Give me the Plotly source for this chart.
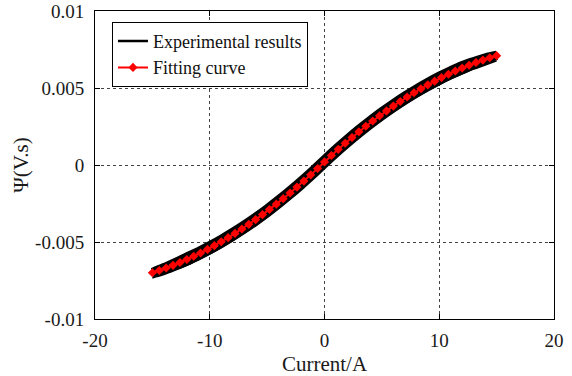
import plotly.graph_objects as go

# ---------------- data ----------------
fit_current = [-15.0, -14.4, -13.8, -13.2, -12.6, -12.0, -11.4, -10.8, -10.2, -9.6,
               -9.0, -8.4, -7.8, -7.2, -6.6, -6.0, -5.4, -4.8, -4.2, -3.6,
               -3.0, -2.4, -1.8, -1.2, -0.6, 0.0, 0.6, 1.2, 1.8, 2.4,
               3.0, 3.6, 4.2, 4.8, 5.4, 6.0, 6.6, 7.2, 7.8, 8.4,
               9.0, 9.6, 10.2, 10.8, 11.4, 12.0, 12.6, 13.2, 13.8, 14.4, 15.0]
fit_psi = [-0.007000, -0.006850, -0.006689, -0.006516, -0.006332, -0.006136, -0.005929,
           -0.005710, -0.005479, -0.005237, -0.004984, -0.004719, -0.004443, -0.004155,
           -0.003855, -0.003544, -0.003221, -0.002887, -0.002542, -0.002185, -0.001816,
           -0.001436, -0.001044, -0.000641, -0.000226, 0.000200, 0.000614, 0.001017,
           0.001408, 0.001788, 0.002156, 0.002513, 0.002858, 0.003191, 0.003513,
           0.003824, 0.004123, 0.004411, 0.004687, 0.004951, 0.005204, 0.005445,
           0.005675, 0.005894, 0.006101, 0.006296, 0.006480, 0.006652, 0.006813,
           0.006962, 0.007100]

exp_current = [-15, -14, -13, -12, -11, -10, -9, -8, -7, -6, -5, -4, -3, -2, -1, 0,
               1, 2, 3, 4, 5, 6, 7, 8, 9, 10, 11, 12, 13, 14, 15]
exp_psi_desc = [-0.006940, -0.006624, -0.006296, -0.005936, -0.005584, -0.005200,
                -0.004784, -0.004336, -0.003856, -0.003344, -0.002800, -0.002224,
                -0.001616, -0.000976, -0.000304, 0.000400, 0.001084, 0.001736,
                0.002356, 0.002944, 0.003500, 0.004024, 0.004516, 0.004976,
                0.005404, 0.005800, 0.006164, 0.006496, 0.006756, 0.006994, 0.007160]
exp_psi_asc = [-0.007030, -0.006824, -0.006566, -0.006286, -0.005934, -0.005550,
               -0.005134, -0.004686, -0.004206, -0.003694, -0.003150, -0.002574,
               -0.001966, -0.001326, -0.000654, 0.000050, 0.000734, 0.001386,
               0.002006, 0.002594, 0.003150, 0.003674, 0.004166, 0.004626,
               0.005054, 0.005450, 0.005814, 0.006146, 0.006486, 0.006784, 0.007070]
exp_psi_outer = [-0.007330, -0.007114, -0.006826, -0.006506, -0.006154, -0.005770,
                 -0.005354, -0.004906, -0.004426, -0.003914, -0.003370, -0.002794,
                 -0.002186, -0.001546, -0.000874, -0.000170, 0.000514, 0.001166,
                 0.001786, 0.002374, 0.002930, 0.003454, 0.003946, 0.004406,
                 0.004834, 0.005230, 0.005594, 0.005926, 0.006226, 0.006494, 0.006770]

x_ticks = [-20, -10, 0, 10, 20]
x_tick_text = ["-20", "-10", "0", "10", "20"]
y_ticks = [-0.01, -0.005, 0, 0.005, 0.01]
y_tick_text = ["-0.01", "-0.005", "0", "0.005", "0.01"]

FONT = "Liberation Serif, Times New Roman, serif"
TXT = "#1a1a1a"

fig = go.Figure()

# experimental hysteresis branches (thick black band)
fig.add_trace(go.Scatter(x=exp_current, y=exp_psi_outer, mode="lines",
                         line=dict(color="black", width=1.6, shape="spline"),
                         showlegend=False, hoverinfo="skip"))
fig.add_trace(go.Scatter(x=exp_current, y=exp_psi_asc, mode="lines",
                         line=dict(color="black", width=8, shape="spline"),
                         showlegend=False, hoverinfo="skip"))
fig.add_trace(go.Scatter(x=exp_current, y=exp_psi_desc, mode="lines",
                         line=dict(color="black", width=8, shape="spline"),
                         showlegend=False, hoverinfo="skip"))
# legend entry for experimental results
fig.add_trace(go.Scatter(x=[None], y=[None], mode="lines",
                         line=dict(color="black", width=2.5),
                         name="Experimental results"))
# fitting curve
fig.add_trace(go.Scatter(x=fit_current, y=fit_psi, mode="lines+markers",
                         line=dict(color="#ff0000", width=2),
                         marker=dict(symbol="diamond", size=7, color="#ff0000",
                                     line=dict(width=0)),
                         name="Fitting curve"))

axis_common = dict(
    showline=True, linecolor="black", linewidth=1, mirror="ticks",
    ticks="inside", ticklen=5, tickcolor="black", tickwidth=1,
    showgrid=True, gridcolor="#444444", gridwidth=1, griddash="dot",
    zeroline=False, automargin=False,
    tickfont=dict(family=FONT, size=19, color=TXT),
)

fig.update_xaxes(range=[-20, 20], tickvals=x_ticks, ticktext=x_tick_text,
                 title=dict(text="Current/A", font=dict(family=FONT, size=21, color=TXT),
                            standoff=6),
                 ticklabelstandoff=4,
                 **axis_common)
fig.update_yaxes(range=[-0.01, 0.01], tickvals=y_ticks, ticktext=y_tick_text,
                 title=dict(text="Ψ(V.s)", font=dict(family=FONT, size=21, color=TXT),
                            standoff=0),
                 ticklabelstandoff=6,
                 **axis_common)

fig.update_layout(
    width=572, height=376,
    margin=dict(l=95, r=18, t=11, b=57),
    paper_bgcolor="white", plot_bgcolor="white",
    font=dict(family=FONT, color=TXT),
    legend=dict(x=0.037, y=0.965, xanchor="left", yanchor="top",
                bgcolor="white", bordercolor="black", borderwidth=1,
                font=dict(family=FONT, size=18, color="#111111"),
                tracegroupgap=0, itemwidth=30),
    showlegend=True,
)

fig.write_html("out.html")
